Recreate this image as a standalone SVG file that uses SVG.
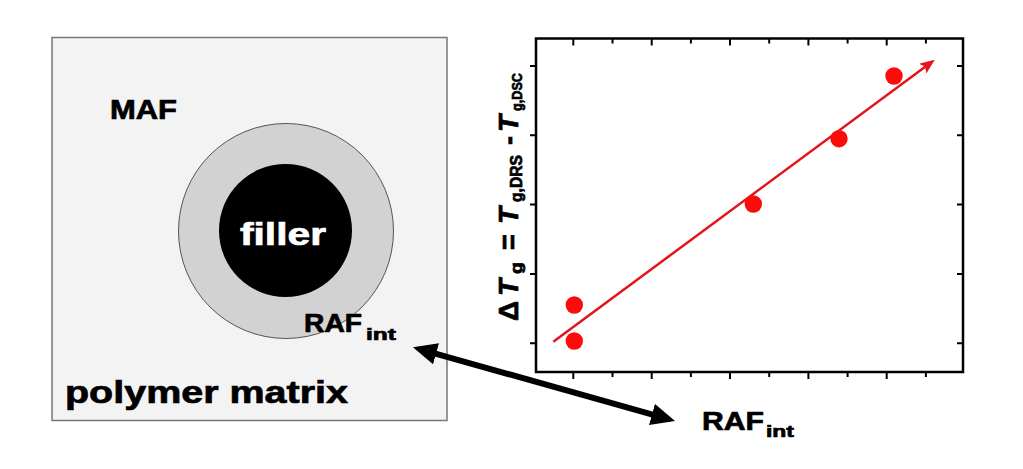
<svg xmlns="http://www.w3.org/2000/svg" width="1023" height="469" viewBox="0 0 1023 469">
<defs>
<style>
text{font-family:"Liberation Sans",Arial,sans-serif;font-weight:bold;fill:#000;stroke:#000;stroke-width:0.7}
.tick{stroke:#000;stroke-width:2}
.dot{fill:#ff0a0a}
</style>
<marker id="bigHead" viewBox="0 0 24 22" refX="9" refY="11" markerWidth="24" markerHeight="22" markerUnits="userSpaceOnUse" orient="auto-start-reverse">
<path d="M0,0 L24,11 L0,22 z" fill="#000"/>
</marker>
<marker id="redHead" viewBox="0 0 15 12" refX="9" refY="6" markerWidth="15" markerHeight="12" markerUnits="userSpaceOnUse" orient="auto">
<path d="M0,0 L15,6 L0,12 L3,6 z" fill="#e3151a"/>
</marker>
</defs>
<rect width="1023" height="469" fill="#fff"/>

<g id="matrix">
<rect x="52" y="37.5" width="395" height="383" fill="#f3f3f3" stroke="#777" stroke-width="1.5"/>
<text x="65" y="403" font-size="32" textLength="283" lengthAdjust="spacingAndGlyphs">polymer matrix</text>
</g>
<g id="maf">
<text x="110" y="119" font-size="27" textLength="67" lengthAdjust="spacingAndGlyphs">MAF</text>
</g>
<g id="raf-shell">
<circle cx="286" cy="231" r="107.5" fill="#d2d2d2" stroke="#555" stroke-width="1"/>
<text x="304" y="332" font-size="26" textLength="58" lengthAdjust="spacingAndGlyphs">RAF</text>
<text x="366" y="339.5" font-size="17" textLength="30" lengthAdjust="spacingAndGlyphs">int</text>
</g>
<g id="filler">
<circle cx="285.5" cy="230.5" r="66.5" fill="#000"/>
<text x="240" y="245" font-size="31" textLength="86" lengthAdjust="spacingAndGlyphs" style="fill:#fff;stroke:#fff">filler</text>
</g>

<g id="plot">
<rect x="536" y="38.5" width="427" height="333.5" fill="#fff" stroke="#000" stroke-width="2.5"/>
<g class="tick">
<path d="M573.3,372v7 M651.7,372v7 M730,372v7 M808.4,372v7 M886.7,372v7 M612.5,372v5 M690.9,372v5 M769.2,372v5 M847.6,372v5 M925.9,372v5"/>
<path d="M573.3,38.5v7 M651.7,38.5v7 M730,38.5v7 M808.4,38.5v7 M886.7,38.5v7 M612.5,38.5v5 M690.9,38.5v5 M769.2,38.5v5 M847.6,38.5v5 M925.9,38.5v5"/>
<path d="M530,66h6 M530,135.3h6 M530,204.6h6 M530,273.9h6 M530,343.2h6"/>
<path d="M957,66h6 M957,135.3h6 M957,204.6h6 M957,273.9h6 M957,343.2h6"/>
</g>
<line x1="553.3" y1="341.7" x2="930" y2="63.3" stroke="#e3151a" stroke-width="2.5" marker-end="url(#redHead)"/>
<circle class="dot" cx="574.3" cy="305" r="8.7"/>
<circle class="dot" cx="574.3" cy="341" r="8.7"/>
<circle class="dot" cx="753.3" cy="204" r="8.7"/>
<circle class="dot" cx="839" cy="138.7" r="8.7"/>
<circle class="dot" cx="894" cy="76" r="8.7"/>
<g transform="translate(518,321) rotate(-90)">
<text x="0" y="0" font-size="27" textLength="20" lengthAdjust="spacingAndGlyphs">Δ</text>
<text x="25" y="0" font-size="28" font-style="italic">T</text>
<text x="47" y="4" font-size="16" textLength="12" lengthAdjust="spacingAndGlyphs">g</text>
<text x="71" y="0" font-size="27">=</text>
<text x="97" y="0" font-size="28" font-style="italic">T</text>
<text x="119" y="4" font-size="16" textLength="47" lengthAdjust="spacingAndGlyphs">g,DRS</text>
<text x="176" y="0" font-size="27">-</text>
<text x="189" y="0" font-size="28" font-style="italic">T</text>
<text x="210" y="4" font-size="15" textLength="38" lengthAdjust="spacingAndGlyphs">g,DSC</text>
</g>
</g>

<g id="raf-axis">
<text x="702" y="430" font-size="26.5" textLength="62" lengthAdjust="spacingAndGlyphs">RAF</text>
<text x="766" y="437" font-size="17" textLength="28" lengthAdjust="spacingAndGlyphs">int</text>
</g>

<g id="connectors">
<line x1="427.4" y1="351.3" x2="660.6" y2="416.9" stroke="#000" stroke-width="6" marker-start="url(#bigHead)" marker-end="url(#bigHead)"/>
</g>
</svg>
